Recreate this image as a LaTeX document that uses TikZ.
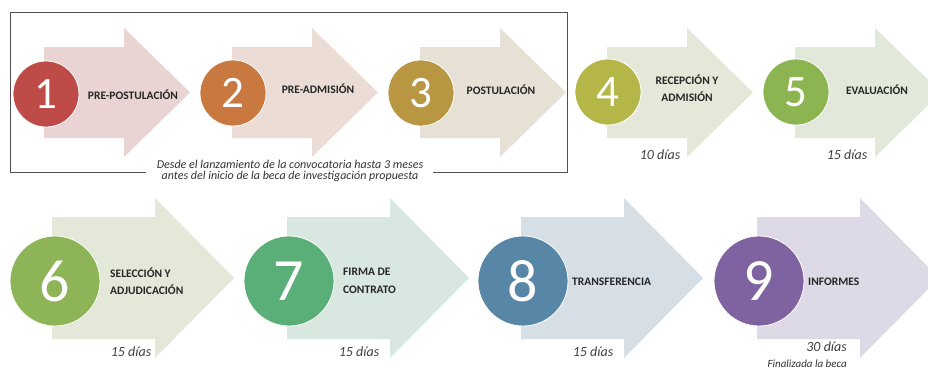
\documentclass[tikz,border=0pt]{standalone}
\usepackage{fontspec}
\setmainfont{Carlito}
\definecolor{a1}{HTML}{E9D3D3}
\definecolor{a2}{HTML}{EBDDD5}
\definecolor{a3}{HTML}{E7E1D5}
\definecolor{a4}{HTML}{E5E7D8}
\definecolor{a5}{HTML}{E2E8DA}
\definecolor{a6}{HTML}{E3E8D8}
\definecolor{a7}{HTML}{D8E8E0}
\definecolor{a8}{HTML}{D6DEE6}
\definecolor{a9}{HTML}{DED9E6}
\definecolor{c1}{HTML}{BE4B48}
\definecolor{c2}{HTML}{C9783F}
\definecolor{c3}{HTML}{B99642}
\definecolor{c4}{HTML}{B4B748}
\definecolor{c5}{HTML}{8CB552}
\definecolor{c6}{HTML}{8DB456}
\definecolor{c7}{HTML}{5AAE77}
\definecolor{c8}{HTML}{5886A6}
\definecolor{c9}{HTML}{7F62A0}
\definecolor{frame}{HTML}{505050}
\begin{document}
\begin{tikzpicture}[x=1pt,y=-1pt,
  numsmall/.style={circle, minimum size=66pt, inner sep=0pt, draw=white, line width=0.8pt, text=white, font=\fontsize{45}{45}\selectfont},
  numbig/.style={circle, minimum size=90pt, inner sep=0pt, draw=white, line width=0.8pt, text=white, font=\fontsize{60}{60}\selectfont},
  lab/.style={inner sep=0pt, text=black!85, font=\bfseries\fontsize{11.5}{17.5}\selectfont},
  days/.style={inner sep=0pt, text=black!75, font=\itshape\fontsize{14}{15}\selectfont},
  capt/.style={inner sep=0pt, text=black!80, align=center, font=\itshape\fontsize{12}{11}\selectfont}]
\useasboundingbox (0,0) rectangle (928,370);
\clip (0,0) rectangle (928,370);
\fill[white] (0,0) rectangle (928,370);
% row 1 arrows
\foreach \x/\c in {44/a1,232/a2,420/a3,607/a4,795/a5}{
  \fill[\c] (\x,47) -- (\x+80,47) -- (\x+80,28) -- (\x+146,92.5) -- (\x+80,157) -- (\x+80,138) -- (\x,138) -- cycle;
}
% row 2 arrows
\foreach \x/\c in {52/a6,287/a7,521/a8,757/a9}{
  \fill[\c] (\x,217) -- (\x+103,217) -- (\x+103,198) -- (\x+182,278) -- (\x+103,358) -- (\x+103,339) -- (\x,339) -- cycle;
}
% frame
\draw[frame, line width=0.9pt] (146,172) -- (10,172) -- (10,12) -- (567,12) -- (567,172) -- (433,172);
\node[capt] (cap) at (290,171) {Desde el lanzamiento de la convocatoria hasta 3 meses\\antes del inicio de la beca de investigación propuesta};
% circles row 1
\node[numsmall, fill=c1] (n1) at (46,94) {1};
\node[numsmall, fill=c2] (n2) at (233,93) {2};
\node[numsmall, fill=c3] (n3) at (421,93) {3};
\node[numsmall, fill=c4] (n4) at (608,92) {4};
\node[numsmall, fill=c5] (n5) at (796,92) {5};
% circles row 2
\node[numbig, fill=c6] (n6) at (55,281) {6};
\node[numbig, fill=c7] (n7) at (289,281) {7};
\node[numbig, fill=c8] (n8) at (523,281) {8};
\node[numbig, fill=c9] (n9) at (759,281) {9};
% labels row 1
\node[lab] (l1) at (133,95) {PRE-POSTULACIÓN};
\node[lab] (l2) at (318,89) {PRE-ADMISIÓN};
\node[lab] (l3) at (501,90) {POSTULACIÓN};
\node[lab, align=center] (l4) at (687,88) {RECEPCIÓN Y\\ADMISIÓN};
\node[lab] (l5) at (877,90) {EVALUACIÓN};
% labels row 2
\node[lab, align=left, anchor=west] (l6) at (110,281) {SELECCIÓN Y\\ADJUDICACIÓN};
\node[lab, align=left, anchor=west] (l7) at (343,281) {FIRMA DE\\CONTRATO};
\node[lab, anchor=west] (l8) at (572,282) {TRANSFERENCIA};
\node[lab, anchor=west] (l9) at (808,282) {INFORMES};
% days
\node[days] (d4) at (660,155) {10 días};
\node[days] (d5) at (847,155) {15 días};
\node[days] (d6) at (131,352) {15 días};
\node[days] (d7) at (359,352) {15 días};
\node[days] (d8) at (593,352) {15 días};
\node[days, anchor=east] (d9) at (847,347) {30 días};
\node[inner sep=0pt, text=black!80, anchor=east, font=\itshape\fontsize{11}{12}\selectfont] (fin) at (847,364) {Finalizada la beca};
\end{tikzpicture}
\end{document}
